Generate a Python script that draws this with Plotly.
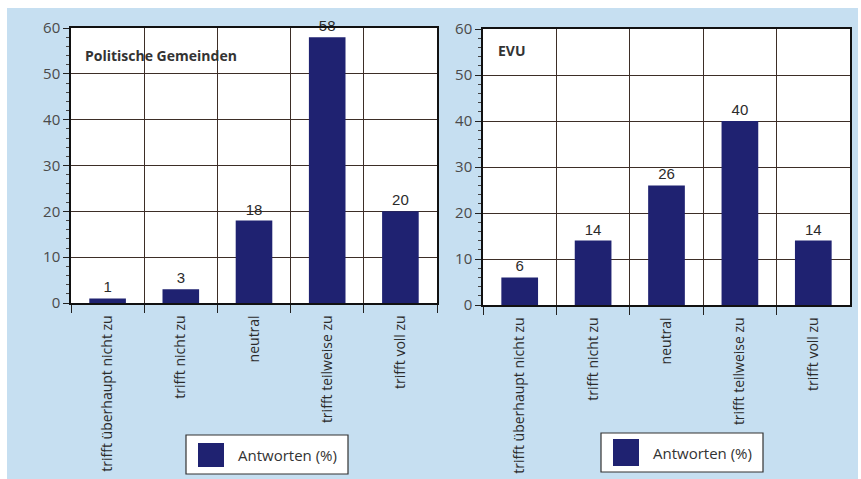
import plotly.graph_objects as go

categories = ["trifft überhaupt nicht zu", "trifft nicht zu", "neutral", "trifft teilweise zu", "trifft voll zu"]
gemeinden_values = [1, 3, 18, 58, 20]
evu_values = [6, 14, 26, 40, 14]
panel_titles = ["Politische Gemeinden", "EVU"]
legend_label = "Antworten (%)"
y_ticks = [0, 10, 20, 30, 40, 50, 60]

W, H = 861, 479
BLUE_BG = "#c6dff1"
BAR = "#1f2271"
GRID = "#3d2e27"
TXT = "#2b2b2b"
FONT = "Open Sans"

def px_x(x):
    return x / W

def px_y(y):
    return 1 - y / H

fig = go.Figure()

for i, vals in enumerate([gemeinden_values, evu_values]):
    xa = "x" if i == 0 else "x2"
    ya = "y" if i == 0 else "y2"
    fig.add_trace(go.Bar(
        x=categories, y=vals, xaxis=xa, yaxis=ya,
        width=0.5, marker=dict(color=BAR, line=dict(width=0)),
        text=vals, texttemplate="%{y}", textposition="outside",
        textfont=dict(family="Liberation Sans", size=15, color=TXT),
        cliponaxis=False, showlegend=False,
    ))

axis_common_x = dict(
    type="category", tickson="boundaries", ticks="outside", ticklen=8,
    tickcolor="#222", tickwidth=1, showgrid=True, gridcolor=GRID, gridwidth=1,
    showline=True, linecolor="#111", linewidth=1.5, mirror=True,
    tickangle=-90, tickfont=dict(family=FONT, size=14, color=TXT),
    ticklabelstandoff=5,
    automargin=False, range=[-0.5, 4.5], fixedrange=True,
)
axis_common_y = dict(
    range=[0, 60], tickvals=y_ticks, ticks="outside", ticklen=6,
    tickcolor="#222", tickwidth=1, showgrid=True, gridcolor=GRID, gridwidth=1,
    showline=True, linecolor="#111", linewidth=1.5, mirror=True,
    zeroline=False, tickfont=dict(family=FONT, size=15, color="#4a4a4a"),
    minor=dict(dtick=2, ticks="outside", ticklen=3, tickcolor="#444", showgrid=False),
    automargin=False, fixedrange=True,
)

fig.update_layout(
    width=W, height=H,
    margin=dict(l=0, r=0, t=0, b=0),
    paper_bgcolor=BLUE_BG, plot_bgcolor="white",
    template="none",
    bargap=0.5,
    xaxis=dict(domain=[px_x(71), px_x(437)], anchor="y", **axis_common_x),
    yaxis=dict(domain=[px_y(303), px_y(28)], anchor="x", **axis_common_y),
    xaxis2=dict(domain=[px_x(483), px_x(850)], anchor="y2", **axis_common_x),
    yaxis2=dict(domain=[px_y(305), px_y(29)], anchor="x2", **axis_common_y),
)

shapes = [
    dict(type="rect", xref="paper", yref="paper", x0=0, x1=1, y0=px_y(8), y1=1,
         fillcolor="white", line=dict(width=0), layer="below"),
    dict(type="rect", xref="paper", yref="paper", x0=0, x1=px_x(7), y0=0, y1=1,
         fillcolor="white", line=dict(width=0), layer="below"),
    dict(type="rect", xref="paper", yref="paper", x0=px_x(858), x1=1, y0=0, y1=1,
         fillcolor="white", line=dict(width=0), layer="below"),
]
annotations = []

# Panel titles
for (tx, ty, title) in [(83, 56, panel_titles[0]), (496, 50, panel_titles[1])]:
    annotations.append(dict(
        x=px_x(tx), y=px_y(ty), xref="paper", yref="paper", text=f"<b>{title}</b>",
        showarrow=False, xanchor="left", yanchor="middle",
        font=dict(family=FONT, size=14, color="#333"),
    ))

# Legend boxes
for (bx0, by0, bx1, by1, sx0, sy0, sx1, sy1, tx) in [
    (186, 435, 348, 474, 198, 443, 224, 467, 236),
    (601, 433, 763, 472, 613, 439, 639, 466, 651),
]:
    shapes.append(dict(type="rect", xref="paper", yref="paper",
                       x0=px_x(bx0), x1=px_x(bx1), y0=px_y(by1), y1=px_y(by0),
                       fillcolor="white", line=dict(color="#333", width=1.2)))
    shapes.append(dict(type="rect", xref="paper", yref="paper",
                       x0=px_x(sx0), x1=px_x(sx1), y0=px_y(sy1), y1=px_y(sy0),
                       fillcolor=BAR, line=dict(width=0)))
    annotations.append(dict(
        x=px_x(tx), y=px_y((by0 + by1) / 2), xref="paper", yref="paper",
        text=legend_label, showarrow=False, xanchor="left", yanchor="middle",
        font=dict(family=FONT, size=15, color="#333"),
    ))

fig.update_layout(shapes=shapes, annotations=annotations)

fig.write_html("out.html")
